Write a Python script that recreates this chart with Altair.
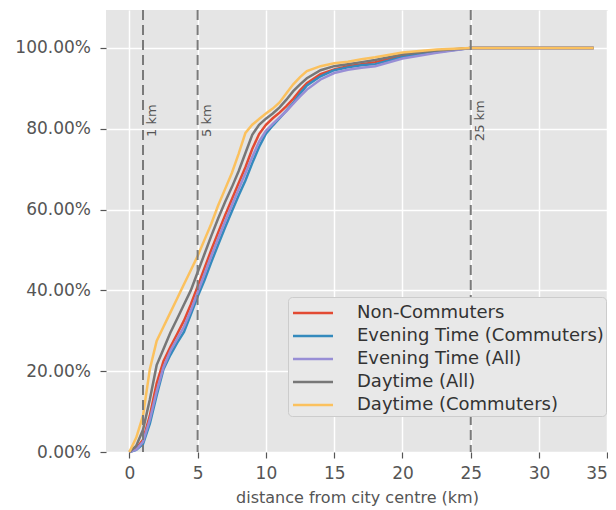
import altair as alt
import pandas as pd

# distances (km) at which each cumulative curve is read
distance_km = [0, 0.5, 1, 1.5, 2, 2.5, 3, 3.5, 4, 4.5, 5, 5.5, 6, 6.5, 7, 7.5, 8, 8.5,
               9, 9.5, 10, 10.5, 11, 11.5, 12, 12.5, 13, 14, 15, 16, 17, 18, 20, 22.5, 25, 34]

series_names = ["Non-Commuters", "Evening Time (Commuters)", "Evening Time (All)",
                "Daytime (All)", "Daytime (Commuters)"]
series_colors = ["#E24A33", "#348ABD", "#988ED5", "#777777", "#FBC15E"]

non_commuters = [0, 0.008, 0.03, 0.09, 0.17, 0.225, 0.26, 0.292, 0.325, 0.365, 0.41, 0.455,
                 0.5, 0.543, 0.585, 0.625, 0.665, 0.705, 0.75, 0.787, 0.81, 0.826, 0.84, 0.856,
                 0.874, 0.895, 0.913, 0.935, 0.947, 0.955, 0.96, 0.965, 0.98, 0.992, 1.0, 1.0]
evening_commuters = [0, 0.005, 0.02, 0.07, 0.14, 0.205, 0.24, 0.27, 0.297, 0.34, 0.385, 0.425,
                     0.47, 0.513, 0.555, 0.595, 0.635, 0.672, 0.715, 0.755, 0.788, 0.808, 0.826, 0.845,
                     0.864, 0.887, 0.907, 0.93, 0.945, 0.952, 0.957, 0.96, 0.978, 0.99, 1.0, 1.0]
evening_all = [0, 0.006, 0.025, 0.08, 0.15, 0.21, 0.25, 0.28, 0.31, 0.35, 0.395, 0.44,
               0.485, 0.528, 0.57, 0.61, 0.65, 0.69, 0.73, 0.768, 0.795, 0.812, 0.828, 0.844,
               0.862, 0.88, 0.897, 0.922, 0.938, 0.946, 0.951, 0.955, 0.974, 0.988, 1.0, 1.0]
daytime_all = [0, 0.015, 0.055, 0.13, 0.215, 0.255, 0.295, 0.33, 0.365, 0.40, 0.445, 0.49,
               0.535, 0.578, 0.618, 0.655, 0.695, 0.74, 0.785, 0.81, 0.825, 0.838, 0.853, 0.872,
               0.893, 0.91, 0.925, 0.945, 0.955, 0.96, 0.965, 0.97, 0.984, 0.994, 1.0, 1.0]
daytime_commuters = [0, 0.035, 0.09, 0.205, 0.275, 0.31, 0.345, 0.38, 0.415, 0.45, 0.485, 0.525,
                     0.565, 0.61, 0.65, 0.69, 0.738, 0.79, 0.81, 0.824, 0.838, 0.85, 0.865, 0.888,
                     0.91, 0.928, 0.943, 0.955, 0.962, 0.966, 0.972, 0.977, 0.989, 0.996, 1.0, 1.0]

series_values = [non_commuters, evening_commuters, evening_all, daytime_all, daytime_commuters]

marker_km = [1, 5, 25]
marker_labels = ["1 km", "5 km", "25 km"]

x_ticks = [0, 5, 10, 15, 20, 25, 30, 35]
y_ticks = [0, 0.2, 0.4, 0.6, 0.8, 1.0]

rows = []
for name, vals in zip(series_names, series_values):
    for i, (d, v) in enumerate(zip(distance_km, vals)):
        rows.append({"series": name, "distance": d, "share": v, "idx": i})
df = pd.DataFrame(rows)

markers = pd.DataFrame({"km": marker_km, "label": marker_labels})

FONT = "DejaVu Sans"
TXT = "#555555"

x_scale = alt.Scale(domain=[-1.71, 35.05], nice=False, zero=False)
y_scale = alt.Scale(domain=[0, 1.094], nice=False)

lines = alt.Chart(df).mark_line(strokeWidth=2.5).encode(
    x=alt.X("distance:Q", scale=x_scale,
            axis=alt.Axis(values=x_ticks, title="distance from city centre (km)", format="d",
                          labelFlush=3, labelOverlap=False, labelBound=False)),
    y=alt.Y("share:Q", scale=y_scale,
            axis=alt.Axis(values=y_ticks, format=".2%", title=None)),
    color=alt.Color("series:N",
                    scale=alt.Scale(domain=series_names, range=series_colors),
                    legend=alt.Legend(title=None, orient="none", legendX=182, legendY=287,
                                      symbolType="M-1.6,0H1.6", symbolSize=625,
                                      symbolStrokeWidth=2.5, symbolOffset=9,
                                      labelOffset=30, rowPadding=0, padding=2,
                                      labelFont=FONT, labelFontSize=18, labelColor="#333333",
                                      labelLimit=500, fillColor="#E8E8E8",
                                      strokeColor="#CCCCCC", cornerRadius=4)),
    order="idx:Q",
)

rules = alt.Chart(markers).mark_rule(color="#7a7a7a", strokeWidth=2, strokeDash=[10, 5]).encode(
    x=alt.X("km:Q", scale=x_scale)
)

labels = alt.Chart(markers).mark_text(angle=270, align="center", baseline="top", dy=3,
                                      font=FONT, fontSize=13, color="#555555").encode(
    x=alt.X("km:Q", scale=x_scale),
    y=alt.YDatum(0.82),
    text="label:N",
)

chart = alt.layer(lines, rules, labels).properties(
    width=502, height=442,
    autosize=alt.AutoSizeParams(type="none"),
    padding={"left": 98, "top": 2, "right": 0, "bottom": 58},
    background="white",
).configure_view(
    fill="#E5E5E5", stroke=None
).configure_axis(
    grid=True, gridColor="white", gridWidth=1.5, domain=False,
    tickColor=TXT, tickSize=6, tickWidth=1.2,
    labelFont=FONT, labelFontSize=17, labelColor=TXT,
    titleFont=FONT, titleFontSize=16, titleColor=TXT, titleFontWeight="normal",
).configure_axisY(
    labelPadding=9.5
).configure_axisX(
    labelPadding=7.5, titlePadding=8
)

chart.save("out.html", embed_options={"renderer": "svg", "actions": False})
